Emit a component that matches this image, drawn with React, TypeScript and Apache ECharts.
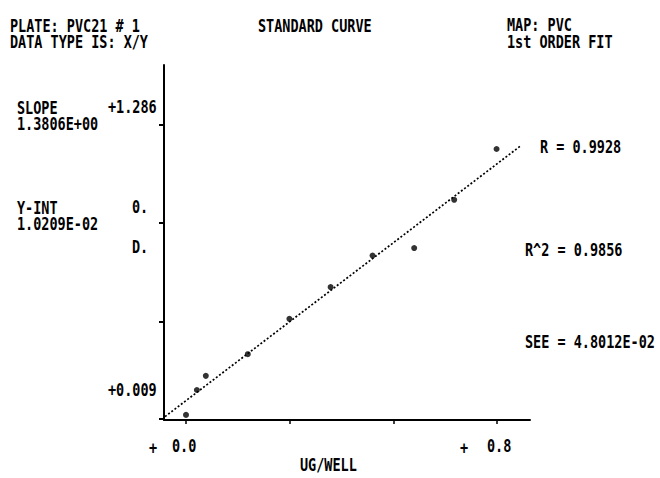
import React, { useEffect, useRef } from "react";
import * as echarts from "echarts";

// data
const xValues = [0, 0.028, 0.051, 0.159, 0.266, 0.372, 0.48, 0.587, 0.69, 0.799];
const yValues = [-0.056, 0.06, 0.126, 0.227, 0.392, 0.54, 0.687, 0.722, 0.947, 1.184];
const fitX = [-0.054, 0.859];
const fitY = [-0.064, 1.196];
const xTickValues = [0, 0.2667, 0.5333, 0.8];
const yTickValues = [-0.072, 0.379, 0.839, 1.297];

const headerLeft = ["PLATE: PVC21 # 1", "DATA TYPE IS: X/Y"];
const headerCenter = "STANDARD CURVE";
const headerRight = ["MAP: PVC", "1st ORDER FIT"];
const slopeText = ["SLOPE", "1.3806E+00"];
const yintText = ["Y-INT", "1.0209E-02"];
const yLabels = ["+1.286", "0.", "D.", "+0.009"];
const statTexts = ["R = 0.9928", "R^2 = 0.9856", "SEE = 4.8012E-02"];
const xLabels = ["0.0", "0.8"];
const xName = "UG/WELL";

const FONT = 'bold 13.5px "DejaVu Sans Mono"';

function txt(text: string, left: number, capTop: number, sy = 1.35) {
  return {
    type: "text",
    x: left,
    y: capTop - 2,
    scaleY: sy,
    silent: true,
    style: { text, font: FONT, fill: "#000", verticalAlign: "top", align: "left" },
  };
}

export default function App() {
  const ref = useRef<HTMLDivElement>(null);
  useEffect(() => {
    if (!ref.current) return;
    const chart = echarts.init(ref.current, null, { renderer: "svg" });
    const points = xValues.map((x, i) => [x, yValues[i]]);
    const fit = fitX.map((x, i) => [x, fitY[i]]);
    chart.setOption({
      animation: false,
      backgroundColor: "#fff",
      grid: { left: 164, top: 65, width: 366, height: 355 },
      xAxis: {
        type: "value",
        min: -0.0566,
        max: 0.885,
        axisLine: { onZero: false, lineStyle: { color: "#000", width: 2 } },
        axisTick: { show: true, customValues: xTickValues, length: 4, lineStyle: { color: "#000", width: 1.5 } },
        axisLabel: { show: false },
        splitLine: { show: false },
      },
      yAxis: {
        type: "value",
        min: -0.0798,
        max: 1.5756,
        axisLine: { show: true, onZero: false, lineStyle: { color: "#000", width: 2 } },
        axisTick: { show: true, customValues: yTickValues, length: 5, lineStyle: { color: "#000", width: 2 } },
        axisLabel: { show: false },
        splitLine: { show: false },
      },
      series: [
        {
          type: "line",
          data: fit,
          symbol: "none",
          lineStyle: { color: "#000", width: 1.7, type: [2, 2] },
          silent: true,
        },
        {
          type: "scatter",
          data: points,
          symbol: "circle",
          symbolSize: 6,
          itemStyle: { color: "#000" },
        },
      ],
      graphic: [
        txt(headerLeft[0], 10, 18),
        txt(headerLeft[1], 10, 34),
        txt(headerCenter, 258, 18),
        txt(headerRight[0], 507, 17),
        txt(headerRight[1], 507, 34),
        txt(slopeText[0], 17, 100),
        txt(slopeText[1], 17, 116),
        txt(yintText[0], 17, 200),
        txt(yintText[1], 17, 216),
        txt(yLabels[0], 108, 99),
        txt(yLabels[1], 132, 199),
        txt(yLabels[2], 132, 239),
        txt(yLabels[3], 108, 382),
        txt(statTexts[0], 540, 139),
        txt(statTexts[1], 525, 242),
        txt(statTexts[2], 525, 334),
        txt("+", 149, 440),
        txt(xLabels[0], 172, 438),
        txt("+", 460, 440),
        txt(xLabels[1], 487, 438),
        txt(xName, 300, 459, 1.25),
      ],
    });
    return () => chart.dispose();
  }, []);
  return (
    <div
      ref={ref}
      style={{ position: "fixed", left: 0, top: 0, width: 660, height: 478, background: "#fff" }}
    />
  );
}
